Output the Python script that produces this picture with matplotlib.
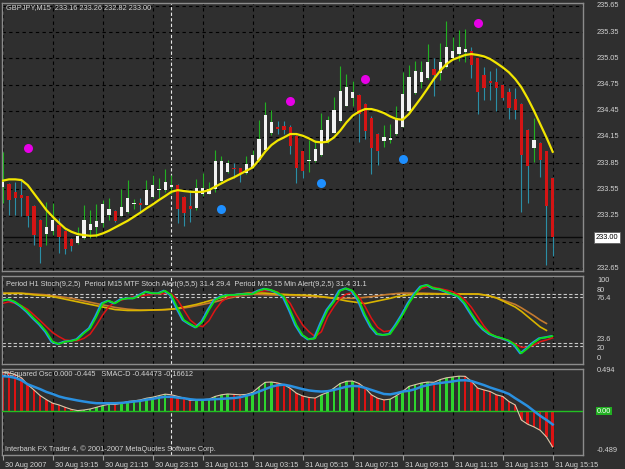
import numpy as np
import matplotlib.pyplot as plt
from matplotlib.transforms import offset_copy, ScaledTranslation

plt.rcParams['font.family'] = ['Liberation Sans', 'DejaVu Sans']

# ---- data (GBPJPY M15, 30 Aug 17:15 .. 31 Aug 15:15) ----
open_ = [233.58, 233.61, 233.52, 233.49, 233.47, 233.36, 233.20, 233.04, 233.07, 233.14,
         233.07, 232.98, 232.94, 232.99, 233.08, 233.12, 233.16, 233.26, 233.30, 233.25,
         233.29, 233.38, 233.39, 233.37, 233.46, 233.54, 233.54, 233.58, 233.60, 233.46,
         233.36, 233.34, 233.50, 233.50, 233.55, 233.65, 233.75, 233.80, 233.79, 233.74,
         233.80, 233.89, 234.00, 234.20, 234.26, 234.28, 234.27, 234.16, 233.99, 233.87,
         233.87, 233.94, 234.09, 234.20, 234.33, 234.51, 234.60, 234.63, 234.53, 234.37,
         234.19, 234.10, 234.11, 234.18, 234.27, 234.45, 234.65, 234.78, 234.83, 234.93,
         234.88, 234.95, 235.06, 235.10, 235.12, 235.14, 235.05, 234.86, 234.79, 234.78,
         234.75, 234.67, 234.59, 234.53, 234.23, 234.02, 234.08, 233.99, 233.68]
high = [233.98, 233.62, 233.64, 233.66, 233.47, 233.37, 233.21, 233.41, 233.39, 233.22,
        233.08, 232.99, 233.12, 233.37, 233.31, 233.38, 233.43, 233.45, 233.31, 233.55,
        233.66, 233.44, 233.45, 233.66, 233.71, 233.68, 233.78, 233.71, 233.61, 233.47,
        233.54, 233.67, 233.74, 233.63, 234.00, 233.93, 233.89, 233.85, 233.80, 233.93,
        234.00, 234.35, 234.55, 234.46, 234.33, 234.33, 234.29, 234.17, 233.99, 234.11,
        234.11, 234.42, 234.39, 234.61, 234.96, 234.87, 234.79, 234.64, 234.54, 234.39,
        234.20, 234.29, 234.30, 234.50, 234.89, 234.97, 235.02, 235.02, 235.21, 235.05,
        235.23, 235.48, 235.30, 235.37, 235.39, 235.18, 235.06, 234.95, 234.90, 234.94,
        234.76, 234.71, 234.71, 234.54, 234.24, 234.37, 234.09, 233.99, 233.69]
low = [233.39, 233.26, 233.26, 233.24, 233.12, 232.91, 232.71, 232.91, 233.03, 232.82,
       232.81, 232.84, 232.92, 232.98, 232.99, 233.01, 233.12, 233.20, 233.18, 233.24,
       233.28, 233.33, 233.28, 233.37, 233.45, 233.45, 233.52, 233.50, 233.16, 233.13,
       233.18, 233.31, 233.47, 233.50, 233.52, 233.64, 233.74, 233.68, 233.64, 233.73,
       233.79, 233.87, 233.99, 234.17, 234.19, 234.18, 233.96, 233.62, 233.68, 233.75,
       233.86, 233.93, 234.08, 234.20, 234.32, 234.50, 234.50, 234.09, 234.13, 233.73,
       233.83, 234.03, 234.08, 234.17, 234.27, 234.43, 234.64, 234.71, 234.81, 234.62,
       234.80, 234.94, 235.04, 235.02, 235.01, 234.83, 234.41, 234.57, 234.57, 234.45,
       234.57, 234.36, 234.36, 233.29, 233.40, 233.86, 233.69, 232.69, 232.79]
close = [233.63, 233.43, 233.45, 233.45, 233.24, 233.03, 232.89, 233.12, 233.20, 233.01,
         232.87, 232.90, 233.02, 233.20, 233.15, 233.19, 233.38, 233.33, 233.19, 233.35,
         233.45, 233.39, 233.37, 233.54, 233.60, 233.56, 233.63, 233.60, 233.33, 233.28,
         233.33, 233.57, 233.57, 233.56, 233.87, 233.88, 233.85, 233.78, 233.73, 233.84,
         233.94, 234.13, 234.40, 234.32, 234.24, 234.23, 234.05, 233.80, 233.76, 233.89,
         234.01, 234.23, 234.34, 234.46, 234.68, 234.72, 234.66, 234.41, 234.22, 234.02,
         233.99, 234.15, 234.14, 234.37, 234.64, 234.84, 234.91, 234.89, 235.01, 234.86,
         235.01, 235.18, 235.14, 235.18, 235.16, 234.97, 234.67, 234.71, 234.77, 234.71,
         234.60, 234.48, 234.46, 233.94, 233.82, 234.11, 233.89, 233.36, 233.00]
ma = [233.650, 233.665, 233.665, 233.657, 233.600, 233.504, 233.409, 233.313, 233.237, 233.168,
      233.103, 233.065, 233.039, 233.027, 233.019, 233.023, 233.046, 233.077, 233.115, 233.153,
      233.191, 233.237, 233.283, 233.333, 233.378, 233.428, 233.474, 233.523, 233.542, 233.531,
      233.523, 233.520, 233.523, 233.542, 233.581, 233.619, 233.657, 233.688, 233.726, 233.764,
      233.802, 233.886, 233.982, 234.058, 234.110, 234.145, 234.184, 234.184, 234.165, 234.134,
      234.096, 234.088, 234.096, 234.145, 234.222, 234.317, 234.394, 234.440, 234.470, 234.470,
      234.451, 234.424, 234.386, 234.355, 234.348, 234.413, 234.508, 234.604, 234.707, 234.814,
      234.909, 234.985, 235.035, 235.062, 235.089, 235.100, 235.089, 235.073, 235.043, 234.997,
      234.947, 234.890, 234.814, 234.718, 234.592, 234.451, 234.298, 234.145, 233.981]

top_bars = [4, 46, 58, 76]
top_vals = [234.02, 234.56, 234.81, 235.46]
bot_bars = [35, 51, 64]
bot_vals = [233.33, 233.62, 233.90]

stoch_main = [72.3, 73.8, 71, 66, 59.6, 52, 45, 36.5, 25, 22.3,
              25, 25.8, 27.7, 34.6, 40.4, 53.8, 69.2, 72.3, 69.2, 73.8,
              75, 75, 78.8, 82.7, 80.8, 80.8, 83.8, 78.8, 63.5, 50,
              45.4, 41.5, 48, 61.5, 73, 77, 78.8, 78.8, 79.6, 80,
              80, 83.8, 86, 84.6, 81.5, 77, 61.5, 44.2, 32.7, 27.7,
              28.8, 46, 61.5, 71, 83.8, 86.5, 83.8, 73, 55.8, 42.3,
              33.8, 32.7, 33.8, 44.2, 55.8, 69.2, 80, 88.5, 90.4, 86.5,
              85.4, 82.7, 80, 77, 69.2, 57.7, 46.9, 39.2, 33.8, 30.8,
              28.8, 26.2, 21.2, 11.5, 17.3, 23.8, 28.8, 30, 31.4]
stoch_signal = [69.2, 71, 69.2, 66.5, 62.3, 55.8, 49.2, 42.3, 35.4, 30.8,
                26.9, 26.2, 26.2, 28.8, 33.8, 44.2, 55.8, 65.4, 71, 73,
                75, 76.9, 77.7, 78.8, 79.6, 80, 80.8, 80, 73, 61.5,
                50, 44.2, 42.3, 49.2, 61.5, 71, 76, 77.7, 78.8, 80,
                81.5, 82.7, 83.8, 83.8, 82.3, 77, 69.2, 55.8, 44.2, 36.5,
                30.8, 36.5, 53.8, 65.4, 75, 80, 81.5, 76.9, 65.4, 51.9,
                41.5, 36.5, 37.7, 44.2, 57.7, 71, 80.8, 86.5, 88.5, 87.7,
                86.2, 84.6, 82.7, 78.8, 73, 64.6, 53.8, 43, 34.6, 30,
                27.7, 26.2, 22.3, 18.5, 18.5, 21.2, 25, 26.9, 29.4]
h1_main = [80.8, 80.8, 80.8, 80.8, 80, 79, 78.5, 78, 77, 75.5,
           74, 72.5, 71, 69.5, 68, 66.5, 65, 63.5, 62, 61.5,
           61, 61, 61, 61.2, 61.5, 61.8, 62, 62.5, 63.5, 65,
           66.5, 68, 70, 72, 74, 76, 78, 79, 80, 80.8,
           81.5, 81.2, 81, 80.5, 80, 79.6, 79.2, 79, 78.8, 78.5,
           78, 77, 76, 75, 73.5, 72, 71, 70, 69, 70.5,
           72, 73.5, 75, 77, 78, 79, 79.6, 80, 80, 80,
           80, 80, 80, 80, 80, 80, 80, 79, 77.5, 75.5,
           72, 68.5, 65, 60, 54, 48, 42, 38, np.nan]
h1_signal = [80.8, 80.8, 80.8, 80.8, 80.5, 80, 79.5, 79, 78, 77,
             76, 75, 73.5, 72, 70.5, 69, 67.5, 66, 64.5, 63.5,
             62.5, 62, 61.5, 61.5, 61.5, 61.5, 62, 62.5, 63, 64,
             65, 66.5, 68, 69.5, 71, 73, 75, 76.5, 78, 79,
             79.5, 79.5, 79.2, 79, 78.8, 78.6, 78.4, 78.2, 78, 77.5,
             77, 76.5, 76, 75.5, 75, 75, 75, 75.5, 76.2, 77,
             78, 79, 79.8, 80.5, 81, 81, 81, 81, 80.8, 80.6,
             80.4, 80.2, 80, 80, 80, 80, 80, 79, 77.5, 75.5,
             73, 70.5, 68, 64, 59.5, 55, 50, 46, np.nan]
stoch_levels = [80, 76.4, 23.6, 20]

osc = [0.479, 0.47, 0.45, 0.41, 0.325, 0.26, 0.19, 0.14, 0.096, 0.075,
       0.046, 0.02, 0.005, 0.0125, 0.025, 0.046, 0.067, 0.083, 0.08, 0.096,
       0.117, 0.125, 0.137, 0.158, 0.17, 0.19, 0.208, 0.2, 0.18, 0.16,
       0.13, 0.135, 0.14, 0.146, 0.18, 0.2, 0.21, 0.205, 0.2, 0.205,
       0.23, 0.296, 0.354, 0.358, 0.346, 0.325, 0.28, 0.22, 0.185, 0.167,
       0.16, 0.2, 0.23, 0.283, 0.34, 0.367, 0.37, 0.34, 0.283, 0.2,
       0.158, 0.137, 0.146, 0.19, 0.24, 0.304, 0.325, 0.346, 0.358, 0.354,
       0.388, 0.41, 0.42, 0.43, 0.428, 0.367, 0.283, 0.26, 0.24, 0.2,
       0.18, 0.117, 0.075, -0.112, -0.163, -0.196, -0.238, -0.32, -0.445]
smacd = [0.43, 0.425, 0.41, 0.38, 0.33, 0.30, 0.27, 0.235, 0.21, 0.18,
         0.16, 0.145, 0.13, 0.117, 0.105, 0.096, 0.096, 0.096, 0.096, 0.10,
         0.108, 0.117, 0.125, 0.14, 0.15, 0.165, 0.175, 0.175, 0.165, 0.158,
         0.145, 0.138, 0.138, 0.142, 0.146, 0.15, 0.155, 0.16, 0.17, 0.19,
         0.21, 0.24, 0.27, 0.30, 0.318, 0.325, 0.31, 0.29, 0.27, 0.254,
         0.245, 0.24, 0.245, 0.26, 0.28, 0.30, 0.31, 0.305, 0.285, 0.26,
         0.235, 0.21, 0.205, 0.22, 0.24, 0.25, 0.27, 0.30, 0.32, 0.335,
         0.346, 0.355, 0.365, 0.378, 0.38, 0.37, 0.345, 0.32, 0.29, 0.265,
         0.24, 0.21, 0.158, 0.11, 0.06, 0.0, -0.06, -0.11, -0.166]

price_levels = [232.65, 232.95, 233.25, 233.55, 233.85, 234.15, 234.45, 234.75, 235.05, 235.35, 235.65]
date_labels = ['30 Aug 2007', '30 Aug 19:15', '30 Aug 21:15', '30 Aug 23:15', '31 Aug 01:15',
               '31 Aug 03:15', '31 Aug 05:15', '31 Aug 07:15', '31 Aug 09:15', '31 Aug 11:15',
               '31 Aug 13:15', '31 Aug 15:15']
cursor_bar = 27
last_price = 233.00

# ---- figure ----
BG = '#2f2f2f'
TXT = '#d2d2d2'
FS = 5.3
W, H = 625, 469
fig = plt.figure(figsize=(W / 100, H / 100), dpi=100, facecolor=BG)
bars = np.arange(len(close))


def pane(l, t, r, b):
    ax = fig.add_axes([l / W, 1 - b / H, (r - l) / W, (b - t) / H], facecolor=BG)
    for s in ax.spines.values():
        s.set_color('#8c8c8c')
        s.set_linewidth(1)
    ax.set_xlim(-0.11, 92.85)
    ax.set_xticks(range(0, 89, 8))
    ax.grid(axis='x', color='black', ls=(0, (3, 3)), lw=0.8)
    ax.axvline(cursor_bar, color='#e8e8e8', ls=(0, (3, 2)), lw=0.8, zorder=1)
    ax.tick_params(left=False, labelleft=False, right=False, labelright=False,
                   bottom=False, labelbottom=False)
    return ax


def ftext(x, y, s, **kw):
    kw.setdefault('color', TXT)
    kw.setdefault('fontsize', FS)
    fig.text(x / W, 1 - y / H, s, va='center', ha='left', **kw)


# main price pane
ax = pane(2, 3, 583, 271)
ax.set_ylim(232.616, 235.684)
ax.set_yticks(price_levels)
ax.grid(axis='y', color='black', ls=(0, (3, 3)), lw=0.8)
ax.axhline(last_price, color='#0a0a0a', lw=1)

o, h, l, c = map(np.array, (open_, high, low, close))
up = c >= o
wick_col = np.where(up, '#22b022', '#2b8ea6')
body_col = np.where(up, '#f2f2f2', '#d41414')
ax.vlines(bars, l, h, colors=wick_col, lw=0.8, zorder=3)
ax.bar(bars, np.maximum(np.abs(c - o), 0.015), bottom=np.minimum(o, c),
       width=0.5, color=body_col, zorder=4)
ax.plot(bars, ma, color='#f2e600', lw=1.6, zorder=5)
ax.plot(top_bars, top_vals, 'o', color='#e600e6', ms=6.5, mec='none', zorder=6)
ax.plot(bot_bars, bot_vals, 'o', color='#1e8fff', ms=6.5, mec='none', zorder=6)

for lv in price_levels:
    if abs(lv - last_price) < 0.1:
        continue  # hidden behind the current price box
    ax.text(1 + 14 / 581, lv, '%.2f' % lv, transform=ax.get_yaxis_transform(),
            va='center', ha='left', color=TXT, fontsize=FS, clip_on=False)
ax.text(1 + 13 / 581, last_price, '%.2f' % last_price, transform=ax.get_yaxis_transform(),
        va='center', ha='left', color='black', fontsize=FS, clip_on=False,
        bbox=dict(fc='white', ec='#606060', lw=0.6, pad=1.2))
ftext(6, 8, 'GBPJPY,M15  233.16 233.26 232.82 233.00')

# stochastic pane
ax2 = pane(2, 276, 583, 364)
ax2.set_ylim(-0.8, 100.8)
for lv in stoch_levels:
    ax2.axhline(lv, color='#c8c8c8', ls=(0, (3, 2)), lw=0.8)
ax2.plot(bars, h1_signal, color='#c47a2e', lw=1.2)
ax2.plot(bars, h1_main, color='#d9b400', lw=1.2)
ax2.plot(bars, stoch_signal, color='#e01414', lw=1.1)
shift = offset_copy(ax2.transData, fig=fig, x=-1.3, y=0, units='dots')
ax2.plot(bars, stoch_main, color='#1e9be8', lw=1.5, transform=shift)
ax2.plot(bars, stoch_main, color='#10e010', lw=1.2)
ftext(6, 284, 'Period H1 Stoch(9,2,5)  Period M15 MTF Stoch Alert(9,5,5) 31.4 29.4  '
      'Period M15 15 Min Alert(9,2,5) 31.4 31.1')
ftext(597, 280, '100')
ftext(597, 290, '80')
ftext(597, 299, '76.4')
ftext(597, 339, '23.6')
ftext(597, 348, '20')
ftext(597, 358, '0')

# oscillator pane
ax3 = pane(2, 369, 583, 455)
ax3.set_ylim(-0.543, 0.5185)
osc_a = np.array(osc)
rising = np.r_[False, osc_a[1:] >= osc_a[:-1]]
ax3.bar(bars, osc_a, width=0.4, color=np.where(rising, '#2ed42e', '#dc1212'), zorder=2)
ax3.axhline(0, color='#22c022', lw=1, zorder=3)
ax3.plot(bars, osc_a, color='#dcc8a8', lw=0.8, zorder=4)
ax3.plot(bars, smacd, color='#2a90e0', lw=1.8, zorder=5)
ftext(4, 375, 'RSquared Osc 0.000 -0.445   SMAC-D -0.44473 -0.16612')
ftext(5, 449, 'Interbank FX Trader 4, \u00a9 2001-2007 MetaQuotes Software Corp.')
ftext(597, 371, '0.494')
ftext(597, 450, '-0.489')
ftext(597, 411, '0.00', color='white',
      bbox=dict(fc='#22b022', ec='none', pad=0.6))

ax3.tick_params(bottom=True, labelbottom=True, length=3.5, color='#a0a0a0',
                labelcolor=TXT, labelsize=FS, pad=1.5)
ax3.set_xticklabels(date_labels)
for lbl in ax3.get_xticklabels():
    lbl.set_horizontalalignment('left')
    lbl.set_transform(lbl.get_transform() + ScaledTranslation(2 / 100, 0, fig.dpi_scale_trans))

fig.savefig('out.png', dpi=100, facecolor=BG)
